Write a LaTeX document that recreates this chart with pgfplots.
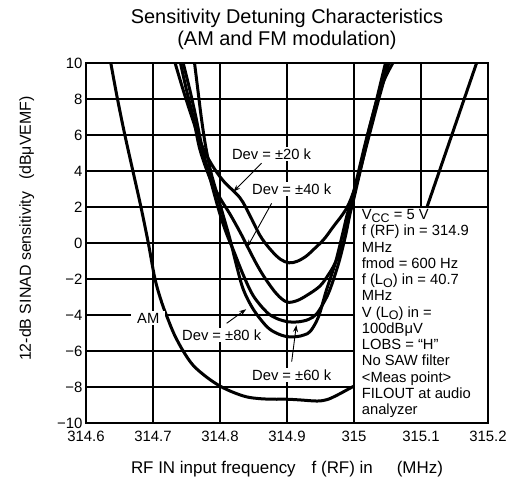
\documentclass[border=0pt]{standalone}
\usepackage{fontspec}
\setmainfont{Liberation Sans}
\usepackage{pgfplots}
\pgfplotsset{compat=1.18}
\usetikzlibrary{arrows.meta}

\begin{document}
\begin{tikzpicture}
\path (-86bp,-67bp) rectangle (424bp,423bp);
\begin{axis}[
  at={(0,0)}, anchor=south west,
  scale only axis, width=402bp, height=360bp,
  xmin=314.6, xmax=315.2, ymin=-10, ymax=10,
  xtick={314.6,314.7,314.8,314.9,315,315.1,315.2},
  xticklabels={314.6,314.7,314.8,314.9,315,315.1,315.2},
  ytick={-10,-8,-6,-4,-2,0,2,4,6,8,10},
  yticklabels={−10,−8,−6,−4,−2,0,2,4,6,8,10},
  major tick length=0pt,
  grid=major,
  major grid style={black, line width=1.6bp},
  axis line style={black, line width=2.5bp},
  tick label style={font=\fontsize{15}{17}\selectfont, text=black},
  xticklabel style={yshift=-5bp},
  title={Sensitivity Detuning Characteristics\\(AM and FM modulation)},
  title style={align=center, font=\fontsize{20}{21.6}\selectfont, at={(0.5,1)}, anchor=south, yshift=4bp},
  xlabel={RF IN input frequency\hspace{16bp}f (RF) in\hspace{24bp}(MHz)},
  xlabel style={font=\fontsize{17}{20}\selectfont, at={(axis description cs:0.5,0)}, anchor=base, yshift=-51bp},
  ylabel={12-dB SINAD sensitivity\hspace{12bp}(dBμVEMF)},
  ylabel style={font=\fontsize{16}{19}\selectfont, at={(axis description cs:0,0.54)}, anchor=base, yshift=55bp},
  curve/.style={black, line width=3bp, smooth, tension=0.55, line join=round, line cap=round, mark=none},
]
% AM
\addplot[curve] coordinates {(314.637,10) (314.647,8) (314.658,6) (314.67,4) (314.682,2) (314.693,0) (314.703,-2) (314.713,-3.3) (314.722,-4.2) (314.732,-5.1) (314.745,-6.0) (314.76,-6.8) (314.78,-7.45) (314.8,-7.95) (314.82,-8.3) (314.84,-8.55) (314.86,-8.65) (314.88,-8.68) (314.9,-8.68) (314.92,-8.72) (314.945,-8.78) (314.96,-8.7) (314.975,-8.45) (314.99,-8.15) (315.0,-7.95)};
\addplot[curve] coordinates {(315.109,2) (315.183,10)};
% Dev +-20
\addplot[curve] coordinates {(314.733,10) (314.745,8.5) (314.758,7) (314.772,5.5) (314.787,4.4) (314.805,3.45) (314.83,2.5) (314.845,1.5) (314.86,0.4) (314.875,-0.35) (314.89,-0.9) (314.903,-1.1) (314.915,-1.02) (314.928,-0.75) (314.94,-0.35) (314.955,0.2) (314.968,0.85) (314.99,2.0) (315.005,3.5) (315.02,5.6) (315.037,8) (315.052,10)};
% Dev +-40
\addplot[curve] coordinates {(314.741,10) (314.75,8.5) (314.76,7) (314.77,5.2) (314.785,3.6) (314.8,2.5) (314.815,1.6) (314.83,0.6) (314.841,-0.2) (314.855,-1.2) (314.868,-2.0) (314.885,-2.85) (314.9,-3.28) (314.915,-3.2) (314.93,-2.9) (314.949,-2.4) (314.962,-1.75) (314.972,-1.1) (314.984,0) (314.994,1.8) (315.005,3.5) (315.02,5.9) (315.034,8) (315.047,10)};
% Dev +-60
\addplot[curve] coordinates {(314.745,10) (314.755,8.5) (314.764,7) (314.774,5.2) (314.788,3.2) (314.8,1.6) (314.81,0.5) (314.82,-0.4) (314.835,-1.8) (314.85,-2.95) (314.87,-3.85) (314.885,-4.2) (314.902,-4.38) (314.917,-4.38) (314.932,-4.25) (314.944,-3.95) (314.955,-3.3) (314.964,-2.6) (314.977,-1.13) (314.987,0.35) (314.994,1.6) (315.0,2.5) (315.025,6.5) (315.048,10)};
% Dev +-80
\addplot[curve] coordinates {(314.762,10) (314.767,8.5) (314.772,7) (314.778,5.5) (314.786,4) (314.795,2.8) (314.805,1.5) (314.815,0.2) (314.825,-1.3) (314.835,-2.6) (314.85,-3.7) (314.87,-4.65) (314.885,-5.02) (314.9,-5.2) (314.915,-5.2) (314.926,-5.1) (314.935,-4.9) (314.947,-4.1) (314.959,-2.6) (314.972,-1.13) (314.982,0.35) (314.99,1.6) (314.998,2.6) (315.02,6) (315.04,8.6) (315.058,10)};

% condition box
\filldraw[fill=white, draw=black, line width=1.6bp] (axis cs:315,-10) rectangle (axis cs:315.2,2);
\draw[black, line width=2.5bp] (rel axis cs:0,0) rectangle (rel axis cs:1,1);
\node[anchor=north west, align=left, inner sep=0pt, font=\fontsize{14.8}{16.3}\selectfont] at (axis cs:315,2) [xshift=7.7bp, yshift=-2.4bp]
 {V\raisebox{-0.35ex}{\fontsize{12.5}{13}\selectfont CC} = 5 V\\
  f (RF) in = 314.9\\
  MHz\\
  fmod = 600 Hz\\
  f (L\raisebox{-0.35ex}{\fontsize{12.5}{13}\selectfont O}) in = 40.7\\
  MHz\\
  V (L\raisebox{-0.35ex}{\fontsize{12.5}{13}\selectfont O}) in =\\
  100dBμV\\
  LOBS = “H”\\
  No SAW filter\\
  <Meas point>\\
  FILOUT at audio\\
  analyzer};

% labels
\node[fill=white, inner xsep=2bp, inner ysep=1.5bp, font=\fontsize{14.8}{16}\selectfont] at (axis cs:314.877,4.94) {Dev = ±20 k};
\node[fill=white, inner xsep=2bp, inner ysep=1.5bp, font=\fontsize{14.8}{16}\selectfont] at (axis cs:314.907,2.98) {Dev = ±40 k};
\node[fill=white, inner xsep=2bp, inner ysep=1.5bp, font=\fontsize{14.8}{16}\selectfont] at (axis cs:314.8025,-5.11) {Dev = ±80 k};
\node[fill=white, inner xsep=2bp, inner ysep=1.5bp, font=\fontsize{14.8}{16}\selectfont] at (axis cs:314.907,-7.33) {Dev = ±60 k};
\node[fill=white, inner xsep=6bp, inner ysep=2bp, font=\fontsize{14.8}{16}\selectfont] at (axis cs:314.693,-4.18) {AM};

% arrows
\draw[black, line width=0.9bp, -{Stealth[length=7bp, width=5bp]}] (axis cs:314.862,4.43) -- (axis cs:314.82,2.85);
\draw[black, line width=0.9bp, -{Stealth[length=7bp, width=5bp]}] (axis cs:314.877,2.2) -- (axis cs:314.841,-0.21);
\draw[black, line width=0.9bp, -{Stealth[length=7bp, width=5bp]}] (axis cs:314.81,-4.46) -- (axis cs:314.839,-3.68);
\draw[black, line width=0.9bp, -{Stealth[length=7bp, width=5bp]}] (axis cs:314.907,-6.59) -- (axis cs:314.914,-4.56);
\end{axis}
\end{tikzpicture}
\end{document}
